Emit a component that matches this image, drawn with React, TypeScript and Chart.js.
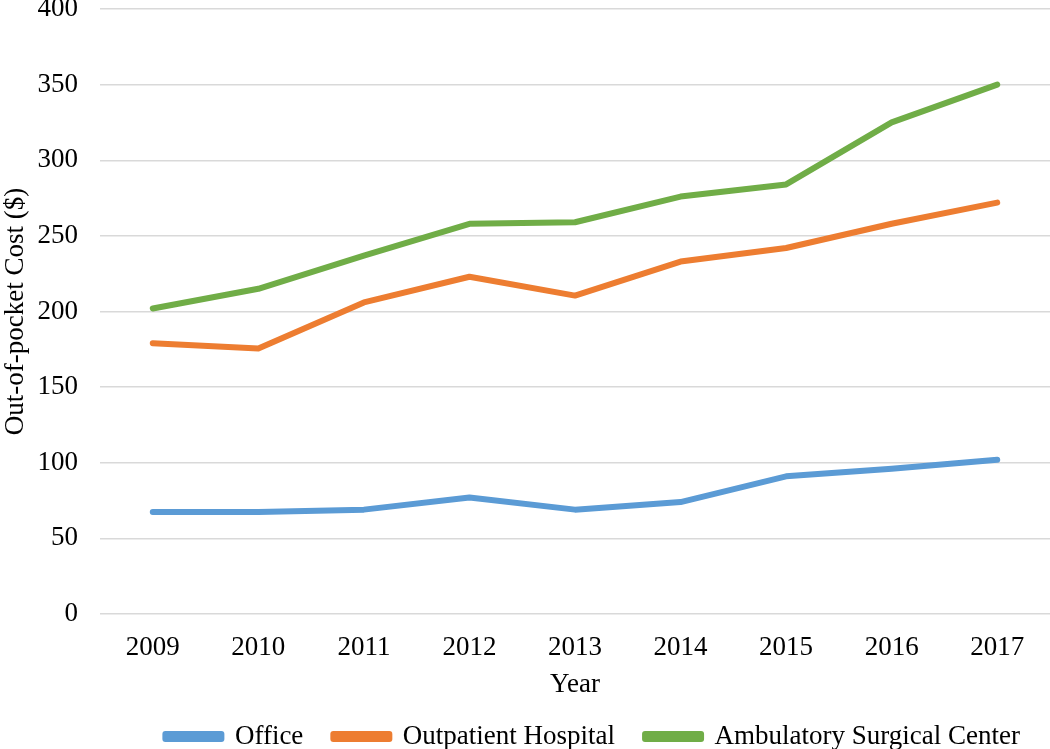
import React, { useEffect, useRef } from "react";
import { Chart, registerables } from "chart.js";

Chart.register(...registerables);

const years = ["2009", "2010", "2011", "2012", "2013", "2014", "2015", "2016", "2017"];
const office = [67.5, 67.5, 69, 77, 69, 74, 91, 96, 102];
const outpatient = [179, 175.5, 206, 223, 210.5, 233, 242, 258, 272];
const asc = [202, 215, 237, 258, 259, 276, 284, 325, 350];

const FONT = "'Liberation Serif', 'Times New Roman', serif";
const FS = 27;

export default function App() {
  const ref = useRef<HTMLCanvasElement>(null);
  useEffect(() => {
    if (!ref.current) return;
    const mk = (label: string, data: number[], color: string) => ({
      label,
      data,
      borderColor: color,
      backgroundColor: color,
      borderWidth: 6,
      pointRadius: 0,
      tension: 0,
      borderCapStyle: "round" as const,
      borderJoinStyle: "round" as const,
    });
    const chart = new Chart(ref.current, {
      type: "line",
      data: {
        labels: years,
        datasets: [
          mk("Office", office, "#5B9BD5"),
          mk("Outpatient Hospital", outpatient, "#ED7D31"),
          mk("Ambulatory Surgical Center", asc, "#70AD47"),
        ],
      },
      options: {
        animation: false,
        responsive: false,
        layout: { padding: { top: 0, right: 0, left: 0, bottom: -11 } },
        plugins: {
          tooltip: { enabled: false },
          legend: {
            position: "bottom",
            align: "end",
            labels: {
              boxWidth: 56,
              boxHeight: 5,
              padding: 30,
              color: "#000",
              font: { family: FONT, size: FS },
            },
          },
        },
        scales: {
          x: {
            offset: true,
            grid: { display: false, drawTicks: false },
            border: { display: false },
            ticks: { color: "#000", font: { family: FONT, size: FS }, padding: 18, maxRotation: 0 },
            title: { display: true, text: "Year", color: "#000", font: { family: FONT, size: FS }, padding: { top: -8, bottom: -8 } },
            afterFit: (s: any) => {
              s.height = 79;
              s.paddingLeft = 0;
              s.paddingRight = 0;
            },
          },
          y: {
            min: 0,
            max: 400,
            ticks: { stepSize: 50, color: "#000", font: { family: FONT, size: FS }, padding: 22 },
            grid: { color: "#d9d9d9", lineWidth: 1.5, drawTicks: false },
            border: { display: false },
            title: { display: true, text: "Out-of-pocket Cost ($)", color: "#000", font: { family: FONT, size: FS }, padding: { top: 0, bottom: 8 } },
            afterFit: (s: any) => {
              s.width = 100;
              s.paddingTop = 9;
              s.paddingBottom = 0;
            },
          },
        },
      },
    });
    return () => chart.destroy();
  }, []);
  return (
    <div style={{ position: "fixed", left: 0, top: 0, width: 1050, height: 749, background: "#fff" }}>
      <canvas ref={ref} width={1050} height={749} />
    </div>
  );
}
